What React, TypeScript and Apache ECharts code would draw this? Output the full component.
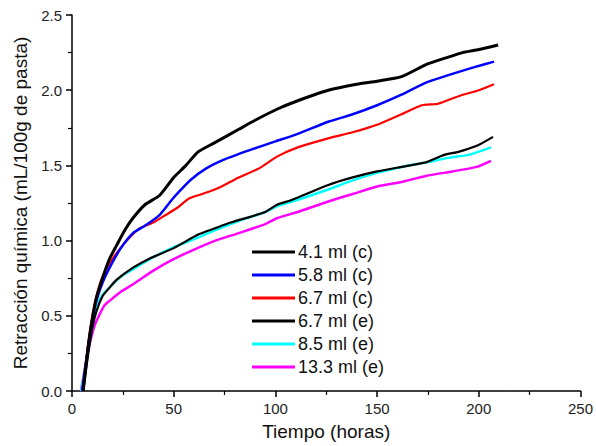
import React, { useEffect, useRef } from "react";
import * as echarts from "echarts";

const seriesNames = ["4.1 ml (c)", "5.8 ml (c)", "6.7 ml (c)", "6.7 ml (e)", "8.5 ml (e)", "13.3 ml (e)"];
const seriesColors = ["#000000", "#0000ff", "#ff0000", "#000000", "#00ffff", "#ff00ff"];
const seriesWidths = [3, 2.5, 2.2, 2.2, 2.5, 2.5];

const black41c: number[][] = [
  [5.5, 0], [8, 0.3], [10, 0.48], [12, 0.62], [15, 0.75], [18.5, 0.88], [22, 0.97], [26, 1.07], [30, 1.15],
  [36, 1.24], [43, 1.3], [50, 1.42], [56, 1.5], [62, 1.59], [70, 1.65], [82, 1.74], [90, 1.8], [101, 1.875],
  [111, 1.93], [126, 2.0], [140, 2.04], [150, 2.06], [162, 2.09], [174, 2.17], [185, 2.22], [192, 2.25],
  [200, 2.27], [209.5, 2.3],
];
const blue58c: number[][] = [
  [5, 0], [8, 0.3], [10, 0.48], [12, 0.6], [15, 0.72], [18.5, 0.82], [24, 0.95], [30, 1.05], [36, 1.1],
  [43, 1.17], [49, 1.27], [53, 1.33], [58, 1.4], [66, 1.48], [75, 1.54], [87, 1.6], [100, 1.66], [111, 1.71],
  [126, 1.79], [138, 1.84], [150, 1.9], [162, 1.97], [174, 2.05], [185, 2.1], [197, 2.15], [207.5, 2.19],
];
const red67c: number[][] = [
  [5, 0], [8, 0.32], [10, 0.5], [12, 0.63], [15, 0.76], [18.5, 0.85], [25, 0.97], [33, 1.08], [40, 1.12],
  [46, 1.17], [52, 1.22], [57.5, 1.28], [64, 1.31], [72, 1.35], [82, 1.42], [92, 1.48], [101, 1.56],
  [111, 1.62], [126, 1.68], [138, 1.72], [150, 1.77], [162, 1.84], [172, 1.9], [180, 1.91], [190, 1.96],
  [200, 2.0], [207.5, 2.04],
];
const black67e: number[][] = [
  [5.5, 0], [8, 0.25], [10, 0.42], [12, 0.53], [15, 0.63], [18, 0.68], [22, 0.74], [30, 0.82], [38, 0.88],
  [50, 0.95], [62, 1.04], [70, 1.08], [78, 1.12], [95, 1.19], [101, 1.24], [108, 1.27], [126, 1.37],
  [138, 1.42], [150, 1.46], [162, 1.49], [174, 1.52], [183, 1.57], [190, 1.59], [199, 1.63], [207, 1.69],
];
const cyan85e: number[][] = [
  [4.5, 0], [7, 0.2], [9, 0.38], [12, 0.56], [15, 0.64], [18.5, 0.69], [24, 0.76], [30, 0.81], [40, 0.89],
  [49, 0.95], [60, 1.01], [70.5, 1.07], [82, 1.13], [95, 1.19], [101, 1.23], [113, 1.28], [126, 1.34],
  [138, 1.4], [150, 1.45], [162, 1.49], [174, 1.52], [185, 1.55], [195, 1.57], [206, 1.62],
];
const magenta133e: number[][] = [
  [4.4, 0], [7, 0.2], [8.8, 0.32], [11, 0.43], [13.6, 0.51], [16, 0.57], [18.5, 0.6], [24, 0.66], [30, 0.71],
  [40, 0.8], [49, 0.87], [60, 0.94], [70.5, 1.0], [82, 1.05], [95, 1.11], [101, 1.15], [111, 1.19],
  [126, 1.26], [138, 1.31], [150, 1.36], [162, 1.39], [174, 1.43], [187, 1.46], [199, 1.49], [206, 1.53],
];

const allData = [black41c, blue58c, red67c, black67e, cyan85e, magenta133e];

const FONT = "Liberation Sans";

export default function App() {
  const ref = useRef<HTMLDivElement>(null);
  useEffect(() => {
    if (!ref.current) return;
    document.body.style.margin = "0";
    const chart = echarts.init(ref.current, null, { renderer: "svg" });
    chart.setOption({
      animation: false,
      backgroundColor: "#ffffff",
      grid: { left: 72, right: 11, top: 15, bottom: 51, containLabel: false },
      legend: {
        orient: "vertical",
        left: 247,
        top: 238,
        itemWidth: 43,
        itemHeight: 3,
        itemGap: 5,
        icon: "rect",
        textStyle: { fontFamily: FONT, fontSize: 18, color: "#111", padding: [0, 0, 0, -2] },
        data: seriesNames,
      },
      xAxis: {
        type: "value",
        min: 0,
        max: 250,
        interval: 50,
        name: "Tiempo (horas)",
        nameLocation: "middle",
        nameGap: 31,
        nameTextStyle: { fontFamily: FONT, fontSize: 19, color: "#111" },
        axisLine: { show: true, lineStyle: { color: "#000", width: 1.5 } },
        axisTick: { show: true, inside: false, length: 6, lineStyle: { color: "#000", width: 1.5 } },
        minorTick: { show: true, splitNumber: 2, length: 4, lineStyle: { color: "#000", width: 1.2 } },
        axisLabel: { fontFamily: FONT, fontSize: 15, color: "#222", margin: 10 },
        splitLine: { show: false },
      },
      yAxis: {
        type: "value",
        min: 0,
        max: 2.5,
        interval: 0.5,
        name: "Retracción química (mL/100g de pasta)",
        nameLocation: "middle",
        nameGap: 40,
        nameTextStyle: { fontFamily: FONT, fontSize: 19, color: "#111" },
        axisLine: { show: true, lineStyle: { color: "#000", width: 1.5 } },
        axisTick: { show: true, inside: false, length: 6, lineStyle: { color: "#000", width: 1.5 } },
        minorTick: { show: true, splitNumber: 2, length: 4, lineStyle: { color: "#000", width: 1.2 } },
        axisLabel: {
          fontFamily: FONT,
          fontSize: 15,
          color: "#222",
          margin: 10,
          formatter: (v: number) => v.toFixed(1),
        },
        splitLine: { show: false },
      },
      series: allData.map((d, i) => ({
        name: seriesNames[i],
        type: "line",
        data: d,
        showSymbol: false,
        symbol: "none",
        smooth: 0.2,
        color: seriesColors[i],
        lineStyle: { color: seriesColors[i], width: seriesWidths[i] },
        z: 10 - i,
      })),
    });
    return () => chart.dispose();
  }, []);
  return <div ref={ref} style={{ width: 596, height: 446 }} />;
}
